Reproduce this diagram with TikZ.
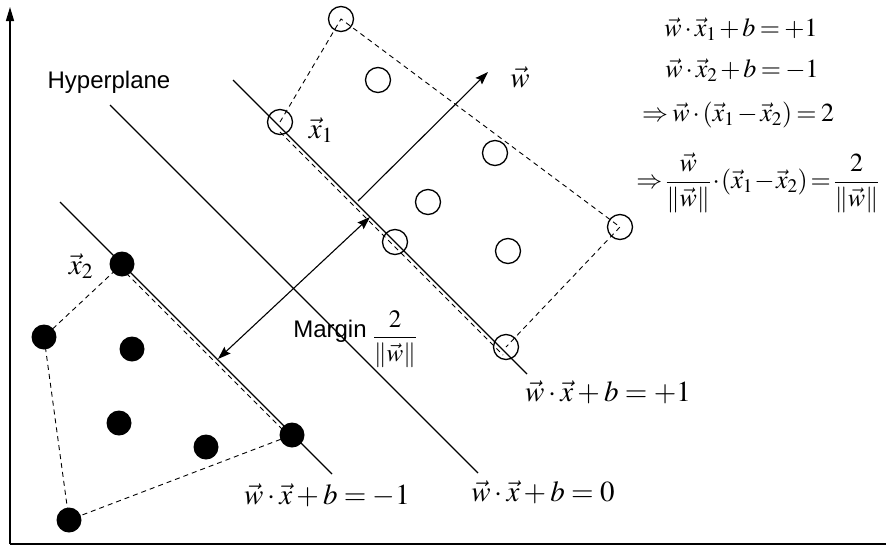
\documentclass[tikz,border=0pt]{standalone}
\usepackage{mathptmx}
\usepackage[no-math]{fontspec}
\newfontfamily\arial{Liberation Sans}
\usetikzlibrary{arrows.meta}
\newcommand\tightspacing{\medmuskip=2mu\relax\thickmuskip=3mu\relax}
\newcommand\tighterspacing{\medmuskip=1mu\relax\thickmuskip=2mu\relax}
\begin{document}
\begin{tikzpicture}[x=1pt,y=-1pt,
  hollow/.style={circle,draw,line width=1.3pt,minimum size=25pt,inner sep=0pt},
  filled/.style={circle,fill=black,minimum size=25pt,inner sep=0pt},
  hull/.style={line width=0.9pt,dash pattern=on 5pt off 4pt},
  solidline/.style={line width=1.1pt},
  arr/.style={line width=1.1pt,-{Stealth[length=13pt,width=9pt,inset=2pt]}},
  darr/.style={line width=1.1pt,{Stealth[length=13pt,width=9pt,inset=2pt]}-{Stealth[length=13pt,width=9pt,inset=2pt]}},
  eq/.style={inner sep=0pt,font=\fontsize{29}{34}\selectfont},
  req/.style={inner sep=0pt,font=\fontsize{26}{30}\selectfont\tightspacing},
  lab/.style={inner sep=0pt,font=\arial\fontsize{24}{28}\selectfont}
]
\useasboundingbox (0,0) rectangle (886,552);
% axes
\coordinate (O) at (10,544);
\coordinate (Ytop) at (10,7);
\coordinate (Xend) at (886,544);
\draw[line width=1.3pt,-{Triangle[length=14pt,width=8pt]}] (O) -- (Ytop);
\draw[line width=1.3pt] (O) -- (Xend);
% separating lines
\coordinate (p1s) at (233,80);
\coordinate (p1e) at (527,374);
\coordinate (h0s) at (110,105);
\coordinate (h0e) at (478,473);
\coordinate (m1s) at (60,202);
\coordinate (m1e) at (332,474);
\draw[solidline] (p1s) -- (p1e);
\draw[solidline] (h0s) -- (h0e);
\draw[solidline] (m1s) -- (m1e);
% hollow points
\node[hollow] (h1) at (341,19) {};
\node[hollow] (h2) at (378,80) {};
\node[hollow] (x1) at (280,122) {};
\node[hollow] (h4) at (495,153) {};
\node[hollow] (h5) at (428,202) {};
\node[hollow] (h6) at (395,242) {};
\node[hollow] (h7) at (620,227) {};
\node[hollow] (h8) at (508,251) {};
\node[hollow] (h9) at (506,347) {};
% hull of hollow points
\draw[hull] (x1.center) -- (h1.center) -- (h7.center) -- (h9.center);
\draw[hull] ([shift={(0,10)}]x1.center) -- ([shift={(-3,8)}]h9.center);
% hull of filled points
\coordinate (x2c) at (122,264);
\coordinate (f2c) at (44,337);
\coordinate (f6c) at (292,435);
\coordinate (f7c) at (69,520);
\draw[hull] (x2c) -- (f2c) -- (f7c) -- (f6c);
\draw[hull] ([shift={(-2,3)}]x2c) -- ([shift={(-3,1)}]f6c);
% filled points
\node[filled] (x2) at (x2c) {};
\node[filled] (f2) at (f2c) {};
\node[filled] (f3) at (132,349) {};
\node[filled] (f4) at (119,423) {};
\node[filled] (f5) at (206,447) {};
\node[filled] (f6) at (f6c) {};
\node[filled] (f7) at (f7c) {};
% arrows
\coordinate (wS) at (358,201);
\coordinate (wE) at (488,72);
\draw[arr] (wS) -- (wE);
\coordinate (mA) at (218,359);
\coordinate (mB) at (370,217);
\draw[darr] (mA) -- (mB);
% labels
\node[lab] (hyp) at (109,82) {Hyperplane};
\node[eq] (lx1) at (321,130) {$\vec{x}_1$};
\node[eq] (lx2) at (81,266) {$\vec{x}_2$};
\node[eq] (lw) at (520,77) {$\vec{w}$};
\node[lab] (marg) at (330,331) {Margin};
\node[inner sep=0pt,font=\fontsize{25}{28}\selectfont] (mfrac) at (395,339) {$\displaystyle\frac{2}{\|\vec{w}\|}$};
\node[eq] (lp1) at (608,392) {$\vec{w}\cdot\vec{x}+b=+1$};
\node[eq] (lm1) at (327,495) {$\vec{w}\cdot\vec{x}+b=-1$};
\node[eq] (l0) at (543,492) {$\vec{w}\cdot\vec{x}+b=0$};
% equations
\node[req] (e1) at (741,29) {$\vec{w}\cdot\vec{x}_1+b=+1$};
\node[req] (e2) at (742,70) {$\vec{w}\cdot\vec{x}_2+b=-1$};
\node[req] (e3) at (738,115) {$\Rightarrow\vec{w}\cdot(\vec{x}_1-\vec{x}_2)=2$};
\node[req,font=\fontsize{26}{30}\selectfont\tighterspacing] (e4) at (758,183) {$\Rightarrow\displaystyle\frac{\vec{w}}{\|\vec{w}\|}\cdot(\vec{x}_1-\vec{x}_2)=\frac{2}{\|\vec{w}\|}$};
\end{tikzpicture}
\end{document}
